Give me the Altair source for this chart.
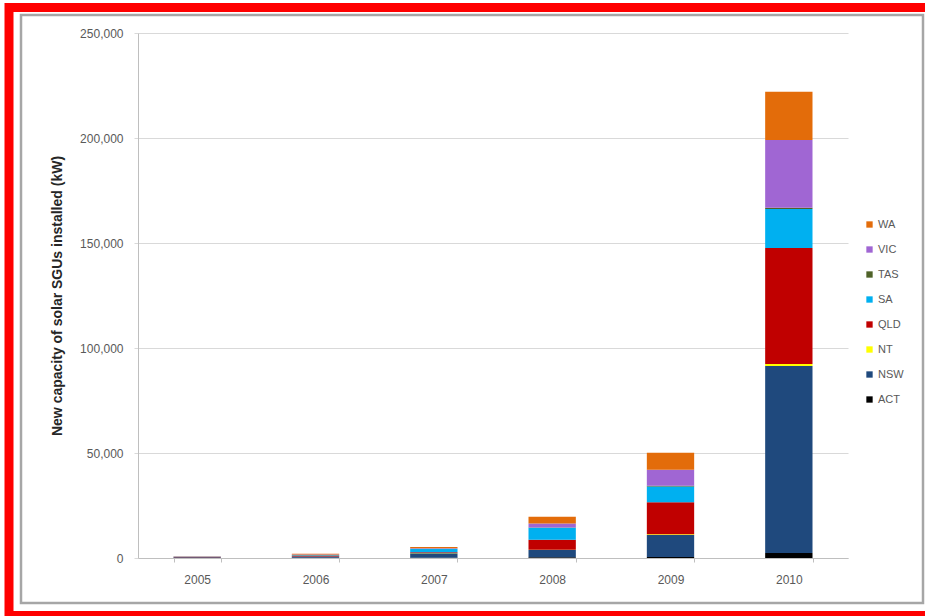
import altair as alt
import pandas as pd

# New solar SGU capacity installed per year (kW), by state/territory
years = ["2005", "2006", "2007", "2008", "2009", "2010"]
states = ["ACT", "NSW", "NT", "QLD", "SA", "TAS", "VIC", "WA"]  # stacking order, bottom -> top
act = [50, 100, 100, 300, 500, 2400]
nsw = [300, 600, 2200, 3500, 10500, 89000]
nt = [20, 50, 50, 100, 300, 1000]
qld = [150, 300, 400, 4800, 15200, 55200]
sa = [100, 300, 1600, 5700, 7600, 18600]
tas = [30, 50, 50, 100, 300, 600]
vic = [100, 300, 300, 1900, 7600, 32200]
wa = [100, 300, 500, 3300, 8100, 23000]

series = dict(zip(states, [act, nsw, nt, qld, sa, tas, vic, wa]))
legend_order = ["WA", "VIC", "TAS", "SA", "QLD", "NT", "NSW", "ACT"]
palette = ["#E36C0A", "#A066D3", "#4F6228", "#00B0F0", "#C00000", "#FFFF00", "#1F497D", "#000000"]

rows = []
for i, s in enumerate(states):
    for y, v in zip(years, series[s]):
        rows.append({"Year": y, "State": s, "kW": v, "idx": i})
df = pd.DataFrame(rows)

W, H = 710, 525
PL, PT = 138, 33
FONT = "Liberation Sans"

bars = alt.Chart(df).mark_bar(stroke=None).encode(
    x=alt.X("Year:N", sort=years,
            scale=alt.Scale(paddingInner=0.6, paddingOuter=0.3),
            axis=alt.Axis(title=None, labelAngle=0, labelFontSize=12, labelColor="#595959",
                          labelPadding=12, ticks=True, tickBand="extent", tickSize=4,
                          tickColor="#BFBFBF", domainColor="#BFBFBF", labelFont=FONT)),
    y=alt.Y("kW:Q", stack="zero",
            scale=alt.Scale(domain=[0, 250000], nice=False),
            axis=alt.Axis(title="New capacity of solar SGUs installed (kW)",
                          values=[0, 50000, 100000, 150000, 200000, 250000],
                          format=",d", labelFontSize=12, labelColor="#595959", labelFont=FONT,
                          labelPadding=11, tickSize=4, tickColor="#D9D9D9",
                          domainColor="#BFBFBF", gridColor="#D9D9D9",
                          titleFont=FONT, titleFontSize=14, titleFontWeight="bold",
                          titleColor="#262626", titlePadding=15)),
    color=alt.Color("State:N",
                    scale=alt.Scale(domain=legend_order, range=palette),
                    legend=alt.Legend(title=None, orient="none",
                                      legendX=864 - PL, legendY=219 - PT,
                                      symbolType="square", symbolSize=40,
                                      symbolStrokeWidth=0, labelOffset=3,
                                      labelFontSize=11, labelColor="#595959", labelFont=FONT,
                                      rowPadding=13, padding=0)),
    order=alt.Order("idx:Q", sort="ascending"),
)

one = pd.DataFrame({"k": [0]})

# outer chart-area border and red picture frame
gray_frame = alt.Chart(one).mark_rect(filled=False, stroke="#A6A6A6", strokeWidth=2.5).encode(
    x=alt.value(21 - PL), x2=alt.value(923 - PL),
    y=alt.value(15 - PT), y2=alt.value(603 - PT),
)

red_frame = alt.Chart(one).mark_rect(filled=False, stroke="#FF0000", strokeWidth=9).encode(
    x=alt.value(9 - PL), x2=alt.value(1100 - PL),
    y=alt.value(7.5 - PT), y2=alt.value(615.5 - PT),
)

chart = alt.layer(bars, gray_frame, red_frame).properties(
    width=W, height=H,
    autosize=alt.AutoSizeParams(type="none"),
    padding={"left": PL, "top": PT, "right": 925 - PL - W, "bottom": 616 - PT - H},
    background="white",
).configure_view(stroke=None)

chart.save("out.html", embed_options={"renderer": "svg", "actions": False})
